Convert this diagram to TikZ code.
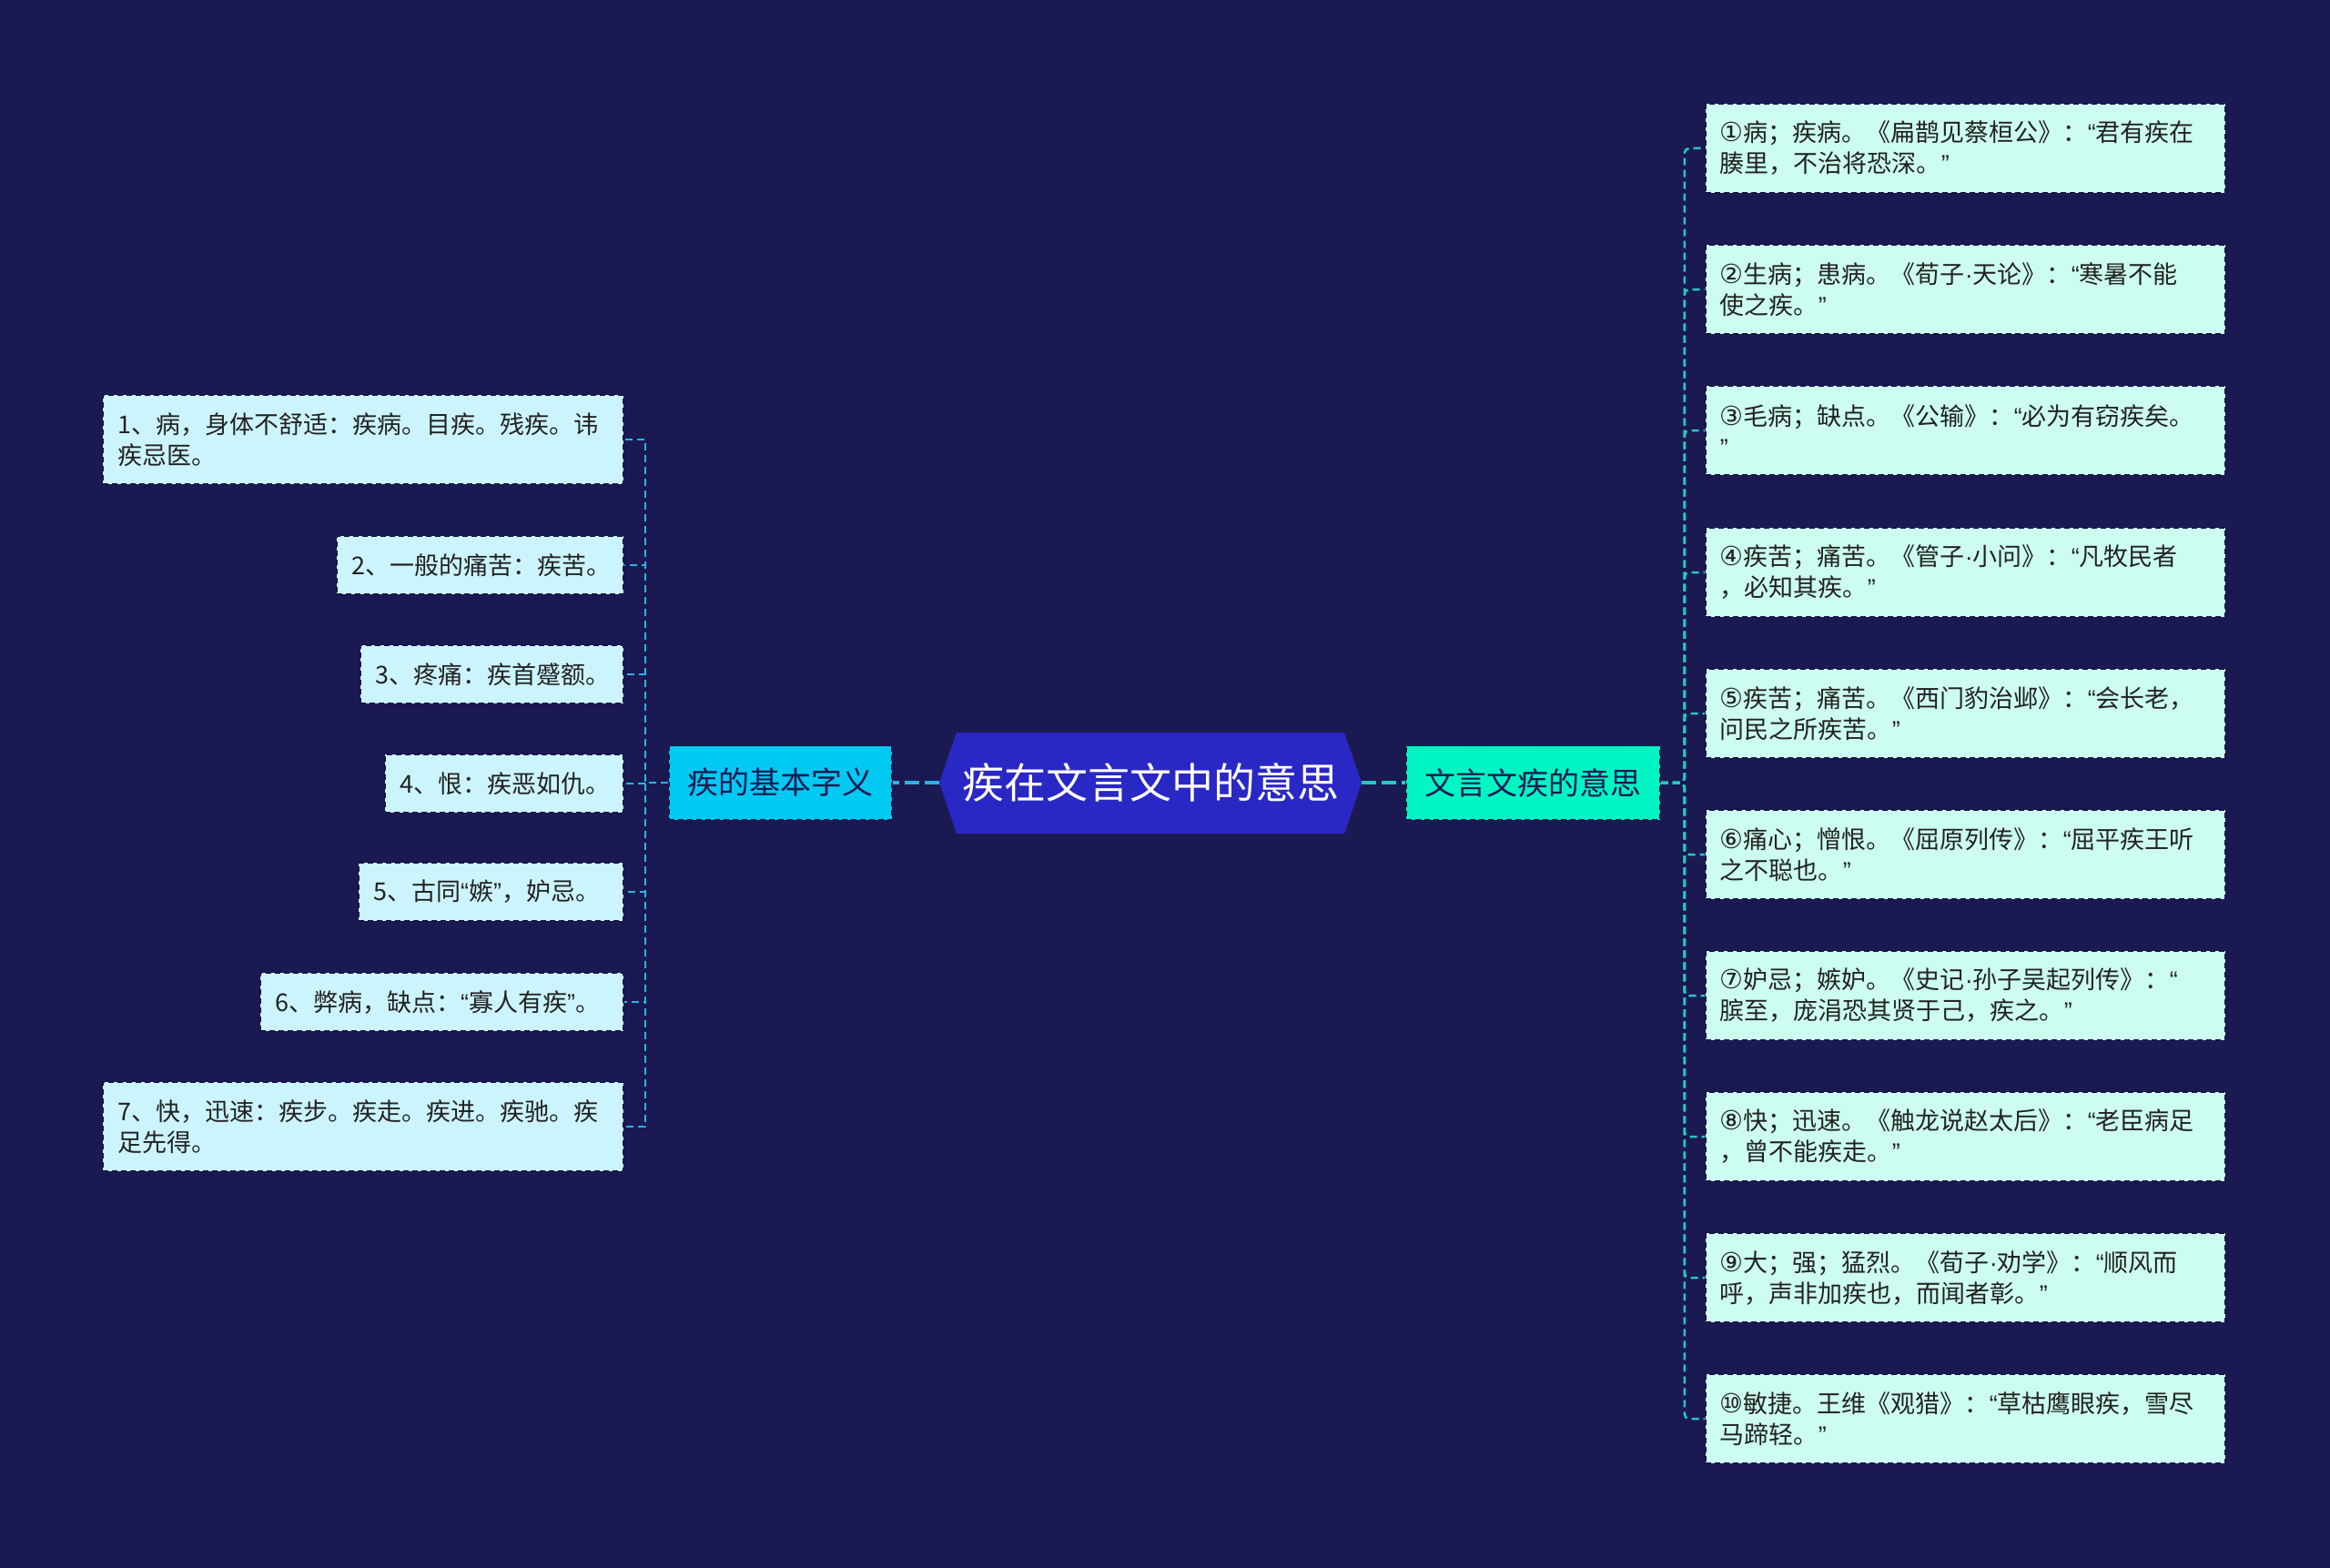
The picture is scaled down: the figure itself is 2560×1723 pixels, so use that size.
\documentclass[tikz,border=0pt]{standalone}
\usepackage{fontspec}
\setmainfont{Noto Sans CJK SC}
\newfontfamily\cjk{Noto Sans CJK SC}
\newfontfamily\latf{Liberation Sans}
\newfontfamily\circf{DejaVu Sans}
\newcommand\qopen{{\latf “}}
\newcommand\qclose{{\latf ”}}
\newcommand\mdot{{\latf ·}}
\newcommand\cn[1]{{\circf\fontsize{29}{34}\selectfont #1}}
\definecolor{bgc}{HTML}{1B1952}
\definecolor{cfill}{HTML}{2A28C4}
\definecolor{midL}{HTML}{00C9F2}
\definecolor{midR}{HTML}{00F5C3}
\definecolor{leafLfill}{HTML}{CCF4FC}
\definecolor{leafRfill}{HTML}{CCFDF0}
\definecolor{connLc}{HTML}{2BB3E6}
\definecolor{connRc}{HTML}{26C8C2}
\definecolor{boxb}{HTML}{17164A}
\definecolor{leaftxt}{HTML}{222222}
\definecolor{midtxt}{HTML}{1B1952}
\pgfdeclarelayer{back}
\pgfdeclarelayer{edges}
\pgfsetlayers{back,edges,main}
\tikzset{
  leafbase/.style={draw=boxb, line width=1.6pt, dash pattern=on 6pt off 4pt,
    text=leaftxt, font=\cjk\fontsize{27}{34}\selectfont, align=left,
    inner xsep=16pt, inner ysep=0pt},
  leafL/.style={leafbase, fill=leafLfill, anchor=east, text width=#1-32pt},
  leafR/.style={leafbase, fill=leafRfill, anchor=west, text width=539pt, minimum height=98pt},
  oneline/.style={minimum height=64pt},
  twoline/.style={minimum height=98pt},
  midnode/.style={draw=boxb, line width=1.6pt, dash pattern=on 6pt off 4pt,
    text=midtxt, font=\cjk\fontsize{34}{40}\selectfont, minimum height=81pt, inner sep=0pt},
  connL/.style={draw=connLc, line width=2.5pt, dash pattern=on 8pt off 5pt},
  connR/.style={draw=connRc, line width=2.5pt, dash pattern=on 8pt off 5pt, rounded corners=5pt},
  mainconnL/.style={draw=connLc, line width=4.5pt, dash pattern=on 16pt off 6pt},
  mainconnR/.style={draw=connRc, line width=4.5pt, dash pattern=on 16pt off 6pt}
}
\begin{document}
\begin{tikzpicture}[x=1pt,y=-1pt]
\begin{pgfonlayer}{back}
\fill[bgc] (0,0) rectangle (2560,1723);
\end{pgfonlayer}
\useasboundingbox (0,0) rectangle (2560,1723);

% centre hexagon
\fill[cfill] (1032,860) -- (1051,805) -- (1477,805) -- (1496,860) -- (1477,916) -- (1051,916) -- cycle;
\node (c) [minimum width=464pt, minimum height=111pt, inner sep=0pt, text=white,
  font=\cjk\fontsize{46}{52}\selectfont] at (1264,860) {疾在文言文中的意思};

% middle nodes
\node (lm) [midnode, fill=midL, minimum width=245pt] at (857.5,860) {疾的基本字义};
\node (rm) [midnode, fill=midR, minimum width=279pt] at (1684.5,860) {文言文疾的意思};

% left leaves
\node (l1) [leafL=572pt, twoline] at (686,483) {1、病，身体不舒适：疾病。目疾。残疾。讳\\疾忌医。};
\node (l2) [leafL=315pt, oneline] at (686,621) {2、一般的痛苦：疾苦。};
\node (l3) [leafL=289pt, oneline] at (686,741) {3、疼痛：疾首蹙额。};
\node (l4) [leafL=262pt, oneline] at (686,861) {4、恨：疾恶如仇。};
\node (l5) [leafL=291pt, oneline] at (686,980) {5、古同\qopen 嫉\qclose，妒忌。};
\node (l6) [leafL=399pt, oneline] at (686,1101) {6、弊病，缺点：\qopen 寡人有疾\qclose。};
\node (l7) [leafL=572pt, twoline] at (686,1238) {7、快，迅速：疾步。疾走。疾进。疾驰。疾\\足先得。};

% right leaves
\node (r1) [leafR] at (1873,163) {\cn{①}病；疾病。《扁鹊见蔡桓公》：\qopen 君有疾在\\腠里，不治将恐深。\qclose};
\node (r2) [leafR] at (1873,318) {\cn{②}生病；患病。《荀子\mdot 天论》：\qopen 寒暑不能\\使之疾。\qclose};
\node (r3) [leafR] at (1873,473) {\cn{③}毛病；缺点。《公输》：\qopen 必为有窃疾矣。\\\qclose};
\node (r4) [leafR] at (1873,629) {\cn{④}疾苦；痛苦。《管子\mdot 小问》：\qopen 凡牧民者\\，必知其疾。\qclose};
\node (r5) [leafR] at (1873,784) {\cn{⑤}疾苦；痛苦。《西门豹治邺》：\qopen 会长老，\\问民之所疾苦。\qclose};
\node (r6) [leafR] at (1873,939) {\cn{⑥}痛心；憎恨。《屈原列传》：\qopen 屈平疾王听\\之不聪也。\qclose};
\node (r7) [leafR] at (1873,1094) {\cn{⑦}妒忌；嫉妒。《史记\mdot 孙子吴起列传》：\qopen\\膑至，庞涓恐其贤于己，疾之。\qclose};
\node (r8) [leafR] at (1873,1249) {\cn{⑧}快；迅速。《触龙说赵太后》：\qopen 老臣病足\\，曾不能疾走。\qclose};
\node (r9) [leafR] at (1873,1404) {\cn{⑨}大；强；猛烈。《荀子\mdot 劝学》：\qopen 顺风而\\呼，声非加疾也，而闻者彰。\qclose};
\node (r10) [leafR] at (1873,1559) {\cn{⑩}敏捷。王维《观猎》：\qopen 草枯鹰眼疾，雪尽\\马蹄轻。\qclose};

\begin{pgfonlayer}{edges}
\draw[mainconnL] (c.west) -- (lm.east);
\draw[mainconnR] (c.east) -- (rm.west);
\foreach \n in {l1,l2,l3,l4,l5,l6,l7}
  \draw[connL] (lm.west) -- ++(-25,0) |- (\n.east);
\foreach \n in {r1,r2,r3,r4,r5,r6,r7,r8,r9,r10}
  \draw[connR] (rm.east) -- ++(26,0) |- (\n.west);
\end{pgfonlayer}
\end{tikzpicture}
\end{document}
